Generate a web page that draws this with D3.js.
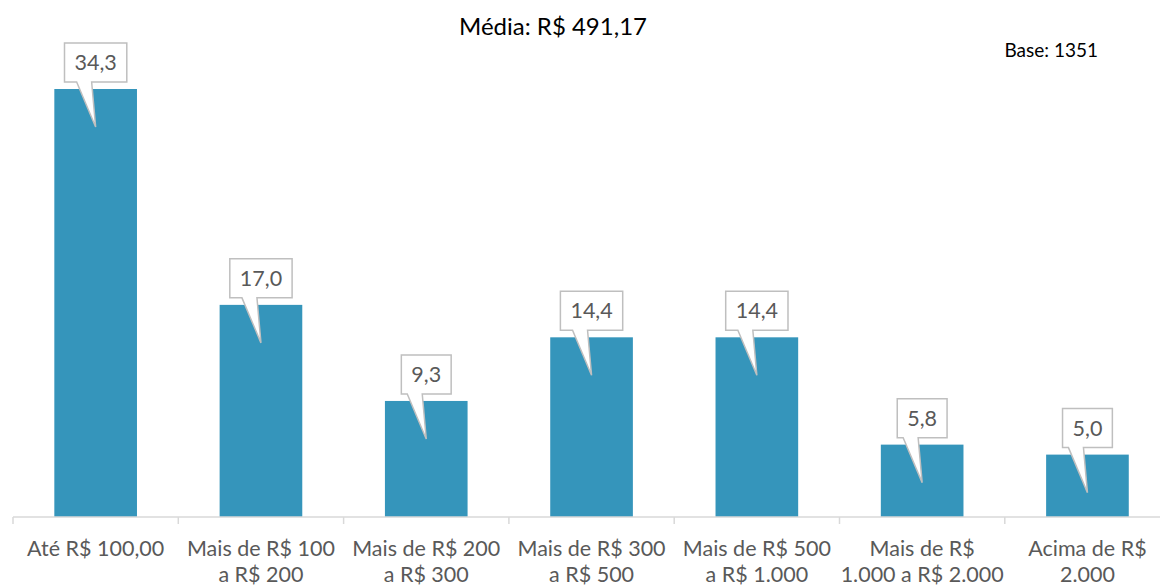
<!DOCTYPE html>
<html>
<head>
<meta charset="utf-8">
<script src="https://cdn.jsdelivr.net/npm/d3@7"></script>
<style>
  body { margin: 0; background: #fff; }
  text { font-family: Lato, "Open Sans", sans-serif; }
</style>
</head>
<body>
<div id="chart"></div>
<script>
var categories = ["Até R$ 100,00", "Mais de R$ 100\na R$ 200", "Mais de R$ 200\na R$ 300",
  "Mais de R$ 300\na R$ 500", "Mais de R$ 500\na R$ 1.000", "Mais de R$\n1.000 a R$ 2.000", "Acima de R$\n2.000"];
var values = [34.3, 17.0, 9.3, 14.4, 14.4, 5.8, 5.0];
var title = "Média: R$ 491,17";
var baseNote = "Base: 1351";

var width = 1160, height = 587;
var barColor = "#3595bb";

var svg = d3.select("#chart").append("svg")
  .attr("width", width)
  .attr("height", height);

var x = d3.scaleBand()
  .domain(categories)
  .range([13, 13 + 7 * 165.3])
  .paddingInner(0.5)
  .paddingOuter(0.25);

var y = d3.scaleLinear()
  .domain([0, 34.3])
  .range([517, 89]);

// title + base
svg.append("text")
  .attr("x", 553).attr("y", 35)
  .attr("text-anchor", "middle")
  .style("font-size", "24px")
  .attr("fill", "#000")
  .text(title);

svg.append("text")
  .attr("x", 1098).attr("y", 57)
  .attr("text-anchor", "end")
  .style("font-size", "19px")
  .attr("fill", "#000")
  .text(baseNote);

// bars
svg.selectAll(".bar")
  .data(values).enter()
  .append("rect")
  .attr("class", "bar")
  .attr("x", (d, i) => x(categories[i]))
  .attr("y", d => y(d))
  .attr("width", x.bandwidth())
  .attr("height", d => y(0) - y(d))
  .attr("fill", barColor);

// axis
var xAxis = d3.axisBottom(x).tickSize(0).tickFormat("");
var axisG = svg.append("g")
  .attr("transform", "translate(0,517)")
  .call(xAxis);
axisG.select(".domain").attr("stroke", "#d9d9d9").attr("stroke-width", 1.5)
  .attr("d", "M13,0H" + width);

// boundary ticks
var bounds = d3.range(8).map(i => 13 + i * x.step());
axisG.selectAll(".bound")
  .data(bounds).enter()
  .append("line")
  .attr("x1", d => d).attr("x2", d => d)
  .attr("y1", 0).attr("y2", 7)
  .attr("stroke", "#d9d9d9").attr("stroke-width", 1.5);

// category labels
var labels = svg.selectAll(".cat")
  .data(categories).enter()
  .append("text")
  .attr("class", "cat")
  .attr("text-anchor", "middle")
  .attr("fill", "#595959")
  .style("font-size", "21.5px")
  .attr("transform", d => "translate(" + (x(d) + x.bandwidth() / 2) + ",556)");

labels.selectAll("tspan")
  .data(d => d.split("\n")).enter()
  .append("tspan")
  .attr("x", 0)
  .attr("dy", (d, i) => i === 0 ? 0 : 26)
  .text(d => d);

// callout labels
var callouts = svg.selectAll(".callout")
  .data(values).enter()
  .append("g")
  .attr("class", "callout")
  .attr("transform", (d, i) => "translate(" + (x(categories[i]) + x.bandwidth() / 2) + "," + y(d) + ")");

callouts.each(function(d) {
  var g = d3.select(this);
  var txt = d.toFixed(1).replace(".", ",");
  var t = g.append("text")
    .attr("text-anchor", "middle")
    .attr("y", -19)
    .attr("fill", "#595959")
    .style("font-size", "21.5px")
    .text(txt);
  var w = t.node().getComputedTextLength() + 20;
  var top = -46, bot = -7;
  var l = -w / 2, r = w / 2;
  var path = "M" + l + "," + top + "H" + r + "V" + bot + "H-4L0,38L-19," + bot + "H" + l + "Z";
  g.insert("path", "text")
    .attr("d", path)
    .attr("fill", "#fff")
    .attr("stroke", "#bfbfbf")
    .attr("stroke-width", 1.5);
});
</script>
</body>
</html>
